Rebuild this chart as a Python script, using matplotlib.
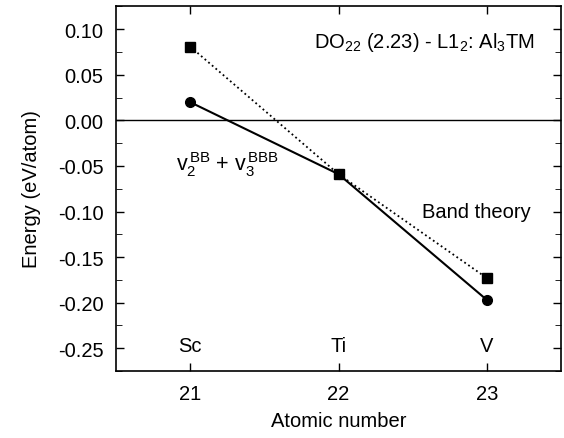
import matplotlib
matplotlib.use('Agg')
import matplotlib.pyplot as plt
from matplotlib.ticker import MultipleLocator

# データ
atomic_number = [21, 22, 23]
elements = ['Sc', 'Ti', 'V']
band_theory = [0.081, -0.059, -0.173]
potentials = [0.020, -0.059, -0.197]

plt.rcParams['font.family'] = ['Liberation Sans', 'DejaVu Sans']
plt.rcParams['mathtext.fontset'] = 'custom'
plt.rcParams['mathtext.rm'] = 'Liberation Sans'
plt.rcParams['mathtext.it'] = 'Liberation Sans'

fs = 14.5

fig = plt.figure(figsize=(5.64, 4.39), dpi=100)
ax = fig.add_axes([116 / 564, 1 - 372 / 439, (561 - 116) / 564, (372 - 7) / 439])

ax.axhline(0, color='black', lw=1.0)
ax.plot(atomic_number, band_theory, ls=':', color='black', lw=1.3,
        marker='s', ms=7)
ax.plot(atomic_number, potentials, ls='-', color='black', lw=1.5,
        marker='o', ms=7)

for x, name in zip(atomic_number, elements):
    ax.text(x, -0.247, name, ha='center', va='center', fontsize=fs)

ax.text(23.32, 0.086, r'DO$_{22}$ (2.23) - L1$_2$: Al$_3$TM',
        ha='right', va='center', fontsize=fs)
ax.text(21.25, -0.047,
        r'$\mathrm{v}_2^{\,\mathrm{BB}}$ + $\mathrm{v}_3^{\,\mathrm{BBB}}$',
        ha='center', va='center', fontsize=fs + 1)
ax.text(22.93, -0.10, 'Band theory', ha='center', va='center', fontsize=fs)

ax.set_xlim(20.5, 23.5)
ax.set_ylim(-0.275, 0.1255)
ax.set_xticks(atomic_number)
ax.yaxis.set_major_locator(MultipleLocator(0.05))
ax.yaxis.set_minor_locator(MultipleLocator(0.025))
ax.yaxis.set_major_formatter(plt.FuncFormatter(lambda v, p: f'{v:.2f}'))
ax.tick_params(direction='in', top=True, right=True, labelsize=fs,
               length=6, width=1, pad=9)
ax.tick_params(which='minor', direction='in', right=True, length=4)
for s in ax.spines.values():
    s.set_linewidth(1.2)

ax.set_xlabel('Atomic number', fontsize=fs, labelpad=6)
ax.set_ylabel('Energy (eV/atom)', fontsize=fs, labelpad=12)

fig.savefig('out.png', dpi=100)
